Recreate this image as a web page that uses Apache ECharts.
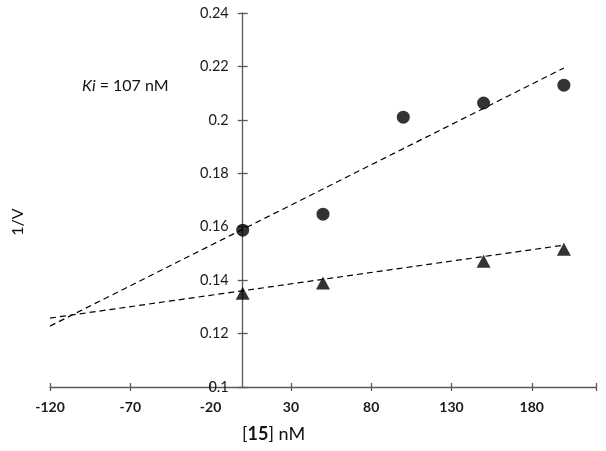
<!DOCTYPE html>
<html>
<head>
<meta charset="utf-8">
<script src="https://cdn.jsdelivr.net/npm/echarts@6/dist/echarts.min.js"></script>
<style>html,body{margin:0;padding:0;background:#fff;}#c{width:606px;height:451px;}</style>
</head>
<body>
<div id="c"></div>
<script>
// Data
var concX = [0, 50, 100, 150, 200];
var circleY = [0.1587, 0.1647, 0.2010, 0.2063, 0.2130];
var triX = [0, 50, 150, 200];
var triY = [0.1351, 0.1389, 0.1471, 0.1516];
var circleFitX = [-120, 200];
var circleFitY = [0.1228, 0.2194];
var triFitX = [-120, 200];
var triFitY = [0.1258, 0.1531];
var xTicks = { min: -120, max: 220, interval: 50 };
var yTicks = { min: 0.1, max: 0.24, interval: 0.02 };

function pairs(xs, ys) { return xs.map(function (x, i) { return [x, ys[i]]; }); }

var FONT = 'Lato, "Open Sans", sans-serif';
var AXC = '#595959';
var GL = 50, GR = 10, GT = 13, GB = 64, W = 606, H = 451;
var gw = W - GL - GR, gh = H - GT - GB;
// pixel offset of x = 0 inside the grid (for placing the y axis there)
var zeroPx = (0 - xTicks.min) / (xTicks.max - xTicks.min) * gw;

var chart = echarts.init(document.getElementById('c'), null, { renderer: 'canvas' });
chart.setOption({
  animation: false,
  backgroundColor: '#ffffff',
  grid: { left: GL, right: GR, top: GT, bottom: GB, containLabel: false },
  xAxis: [{
    type: 'value', min: xTicks.min, max: xTicks.max, interval: xTicks.interval,
    position: 'bottom',
    axisLine: { show: true, onZero: false, lineStyle: { color: AXC, width: 1.3 } },
    axisTick: { show: true, length: 4, lineStyle: { color: AXC, width: 1.3 } },
    axisLabel: { show: true, margin: 13, fontFamily: FONT, fontSize: 14, fontWeight: 'bold', color: '#1a1a1a',
      formatter: function (v) { return v > 200 ? '' : String(v); } },
    splitLine: { show: false }
  }, {
    type: 'value', min: xTicks.min, max: xTicks.max, interval: xTicks.interval,
    position: 'top', offset: -gh,
    axisLine: { show: false, onZero: false },
    axisTick: { show: true, length: 4, lineStyle: { color: AXC, width: 1.3 } },
    axisLabel: { show: false },
    splitLine: { show: false }
  }],
  yAxis: [{
    type: 'value', min: yTicks.min, max: yTicks.max, interval: yTicks.interval,
    position: 'left', offset: -zeroPx,
    axisLine: { show: true, onZero: false, lineStyle: { color: AXC, width: 1.3 } },
    axisTick: { show: true, length: 5, lineStyle: { color: AXC, width: 1.3 } },
    axisLabel: { show: true, margin: 14, fontFamily: FONT, fontSize: 14.5, color: '#1a1a1a',
      formatter: function (v) { return String(parseFloat(v.toFixed(2))); } },
    splitLine: { show: false }
  }, {
    type: 'value', min: yTicks.min, max: yTicks.max, interval: yTicks.interval,
    position: 'right', offset: -(gw - zeroPx),
    axisLine: { show: false, onZero: false },
    axisTick: { show: true, length: 5, lineStyle: { color: AXC, width: 1.3 } },
    axisLabel: { show: false },
    splitLine: { show: false }
  }],
  series: [{
    type: 'line', data: pairs(circleFitX, circleFitY), showSymbol: false, symbol: 'none',
    lineStyle: { color: '#000', width: 1.2, type: [6, 4] }, z: 2
  }, {
    type: 'line', data: pairs(triFitX, triFitY), showSymbol: false, symbol: 'none',
    lineStyle: { color: '#000', width: 1.2, type: [6, 4] }, z: 2
  }, {
    type: 'scatter', data: pairs(concX, circleY), symbol: 'circle', symbolSize: 13,
    itemStyle: { color: '#000' }, z: 3
  }, {
    type: 'scatter', data: pairs(triX, triY), symbol: 'triangle', symbolSize: [14, 13],
    itemStyle: { color: '#000' }, z: 3
  }],
  graphic: [{
    type: 'text', left: 82, top: 78,
    style: { text: '{i|Ki} = 107 nM', fontFamily: FONT, fontSize: 16, fill: '#111',
      rich: { i: { fontStyle: 'italic', fontFamily: FONT, fontSize: 16, fill: '#111' } } }
  }, {
    type: 'text', left: 242, top: 425,
    style: { text: '[{b|15}] nM', fontFamily: FONT, fontSize: 18, fill: '#111',
      rich: { b: { fontWeight: 'bold', fontFamily: FONT, fontSize: 18, fill: '#111' } } }
  }, {
    type: 'text', x: 18, y: 222, rotation: Math.PI / 2,
    style: { text: '1/V', fontFamily: FONT, fontSize: 16, fill: '#111', align: 'center', verticalAlign: 'middle' }
  }]
});
</script>
</body>
</html>
